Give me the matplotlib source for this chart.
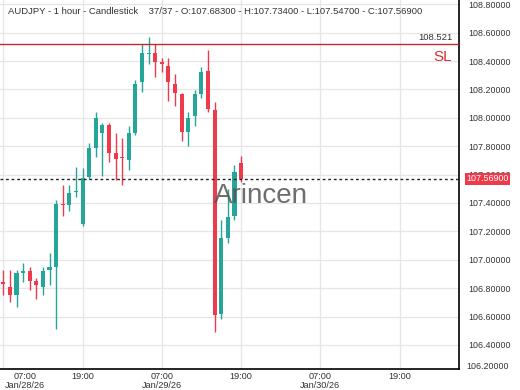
import numpy as np
import pandas as pd
import matplotlib
matplotlib.use("Agg")
import matplotlib.pyplot as plt
import matplotlib.dates as mdates
import matplotlib.transforms as mtransforms

plt.rcParams['font.family'] = ['Liberation Sans', 'DejaVu Sans']

# hourly AUDJPY candles, 07:00 Jan 28 2026 -> 19:00 Jan 29 2026
times = pd.date_range('2026-01-28 07:00', periods=37, freq='h')
opens = [106.84, 106.81, 106.75, 106.91, 106.92, 106.85, 106.81, 106.93, 106.95, 107.39,
         107.385, 107.475, 107.25, 107.58, 107.785, 107.895, 107.95, 107.75, 107.725, 107.70,
         107.89, 108.25, 108.45, 108.455, 108.39, 108.365, 108.24, 108.17, 107.90, 108.01,
         108.17, 108.33, 108.055, 106.62, 107.15, 107.31, 107.683]
highs = [106.93, 106.93, 106.93, 106.98, 106.95, 106.87, 106.95, 107.05, 107.42, 107.53,
         107.53, 107.655, 107.645, 107.82, 108.04, 107.96, 107.96, 107.89, 107.86, 107.94,
         108.265, 108.52, 108.57, 108.52, 108.42, 108.42, 108.31, 108.175, 108.04, 108.195,
         108.355, 108.48, 108.11, 107.28, 107.50, 107.67, 107.734]
lows = [106.75, 106.70, 106.67, 106.84, 106.79, 106.72, 106.75, 106.82, 106.51, 107.31,
        107.34, 107.44, 107.24, 107.57, 107.725, 107.59, 107.69, 107.56, 107.53, 107.63,
        107.88, 108.18, 108.38, 108.29, 108.32, 108.12, 108.08, 107.84, 107.80, 107.94,
        108.14, 108.04, 106.49, 106.58, 107.12, 107.28, 107.547]
closes = [106.83, 106.75, 106.91, 106.92, 106.85, 106.82, 106.92, 106.95, 107.39, 107.385,
          107.47, 107.485, 107.575, 107.785, 108.00, 107.95, 107.755, 107.71, 107.715, 107.89,
          108.24, 108.46, 108.455, 108.39, 108.38, 108.255, 108.175, 107.90, 108.00, 108.17,
          108.325, 108.06, 106.61, 107.15, 107.30, 107.62, 107.569]

sl_level = 108.521
y_ticks = [106.4, 106.6, 106.8, 107.0, 107.2, 107.4, 107.6, 107.8, 108.0, 108.2, 108.4, 108.6, 108.8]
x_tick_times = pd.to_datetime(['2026-01-28 07:00', '2026-01-28 19:00', '2026-01-29 07:00',
                               '2026-01-29 19:00', '2026-01-30 07:00', '2026-01-30 19:00'])
x_tick_labels = ['07:00\nJan/28/26', '19:00', '07:00\nJan/29/26', '19:00', '07:00\nJan/30/26', '19:00']

green = '#26a69a'
red = '#ef3a4b'

fig = plt.figure(figsize=(5.2, 3.9), dpi=100)
ax = fig.add_axes([0.0, 0.053, 0.8827, 0.947])

x = mdates.date2num(times)
o = np.array(opens)
h = np.array(highs)
l = np.array(lows)
c = np.array(closes)
up = c >= o
cols = np.where(up, green, red)

hour = 1 / 24
ax.vlines(x, l, h, colors=cols, linewidth=1.0, zorder=3)
body_lo = np.minimum(o, c)
body_h = np.maximum(np.abs(c - o), 0.007)
ax.bar(x, body_h, bottom=body_lo, width=0.62 * hour, color=cols, linewidth=0, zorder=4)

# shifts a text right of the axes by a few pixels
def right_of_axes(px):
    return ax.get_yaxis_transform() + mtransforms.ScaledTranslation(px / 100, 0, fig.dpi_scale_trans)

# stop loss + last price
ax.axhline(sl_level, color='#c62828', linewidth=1.0, zorder=5)
ax.text(0.985, sl_level + 0.015, f'{sl_level:.3f}', transform=ax.get_yaxis_transform(),
        ha='right', va='bottom', fontsize=6.8, color='#333333')
ax.text(0.985, sl_level - 0.04, 'SL', transform=ax.get_yaxis_transform(),
        ha='right', va='top', fontsize=11, color='#d32f2f')
ax.axhline(closes[-1], color='#222222', linewidth=1.0, linestyle=(0, (2, 2)), zorder=5)
ax.text(1.0, closes[-1], f'{closes[-1]:.5f}', transform=right_of_axes(7),
        ha='left', va='center', fontsize=6.4, color='white', clip_on=False, zorder=10,
        bbox=dict(boxstyle='square,pad=0.15', facecolor='#ef3a4b', edgecolor='none'))

# watermark
ax.text(0.569, 0.47, 'Arincen', transform=ax.transAxes, ha='center', va='center',
        fontsize=20, color='#555555', alpha=0.85, zorder=6)

# header
header = ('AUDJPY - 1 hour - Candlestick    37/37 - O:107.68300 - H:107.73400 - '
          'L:107.54700 - C:107.56900')
ax.text(0.017, 0.968, header, transform=ax.transAxes, ha='left', va='center',
        fontsize=6.8, color='#333333', zorder=7)

ax.set_xlim(x[0] - 0.5 * hour, x[0] + 69 * hour)
ax.set_ylim(106.228, 108.83)

ax.set_yticks(y_ticks)
ax.set_yticklabels([f'{v:.5f}' for v in y_ticks])
ax.yaxis.tick_right()
ax.tick_params(axis='y', length=0, pad=7, labelsize=6.4, labelcolor='#333333')
# clamped bottom label like the source chart
ax.text(1.0, 106.247, '106.20000', transform=right_of_axes(7), ha='left', va='center',
        fontsize=6.4, color='#333333', clip_on=False)

ax.set_xticks(mdates.date2num(x_tick_times))
ax.set_xticklabels(x_tick_labels)
ax.tick_params(axis='x', length=0, pad=2, labelsize=6.6, labelcolor='#333333')
for lab in ax.get_xticklabels():
    lab.set_linespacing(0.95)
# first label is pushed inside the chart
first = ax.get_xticklabels()[0]
first.set_transform(first.get_transform() + mtransforms.ScaledTranslation(0.22, 0, fig.dpi_scale_trans))

ax.grid(True, color='#e6e6e6', linewidth=0.9, zorder=0)
ax.set_axisbelow(True)
for s in ['top', 'left']:
    ax.spines[s].set_visible(False)
for s in ['right', 'bottom']:
    ax.spines[s].set_color('black')
    ax.spines[s].set_linewidth(1.2)

fig.savefig('out.png', dpi=100)
